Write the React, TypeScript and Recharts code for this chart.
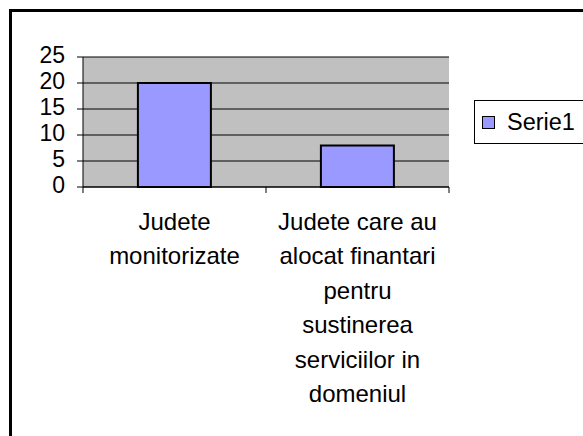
import React from "react";
import {
  BarChart,
  Bar,
  XAxis,
  YAxis,
  CartesianGrid,
  Legend,
} from "recharts";

const categories = [
  "Judete monitorizate",
  "Judete care au alocat finantari pentru sustinerea serviciilor in domeniul",
];
const categoryLines = [
  ["Judete", "monitorizate"],
  ["Judete care au", "alocat finantari", "pentru", "sustinerea", "serviciilor in", "domeniul"],
];
const serie1 = [20, 8];
const yTicks = [0, 5, 10, 15, 20, 25];
const seriesName = "Serie1";

const data = categories.map((c, i) => ({ name: c, serie1: serie1[i] }));

const FONT = "Arial, 'Liberation Sans', sans-serif";

function XTick(props: any) {
  const { x, y, payload, index, visibleTicksCount } = props;
  const idx = payload?.index ?? index;
  const lines = categoryLines[idx] || [String(payload.value)];
  const half = payload?.offset ?? 0;
  const count = visibleTicksCount ?? categories.length;
  return (
    <g>
      <line x1={x - half} x2={x - half} y1={y} y2={y + 6} stroke="#000" strokeWidth={1} />
      {idx === count - 1 && (
        <line x1={x + half} x2={x + half} y1={y} y2={y + 6} stroke="#000" strokeWidth={1} />
      )}
      {lines.map((l, i) => (
        <text
          key={i}
          x={x}
          y={y + 43 + i * 34.4}
          textAnchor="middle"
          fontSize={24}
          fontFamily={FONT}
          fill="#000"
        >
          {l}
        </text>
      ))}
    </g>
  );
}

function YTick(props: any) {
  const { x, y, payload } = props;
  return (
    <text
      x={x}
      y={y - 2}
      dy="0.355em"
      textAnchor="end"
      fontSize={23}
      fontFamily={FONT}
      fill="#000"
    >
      {payload.value}
    </text>
  );
}

function LegendBox() {
  return (
    <div
      style={{
        width: 130,
        height: 44,
        border: "1px solid #000",
        background: "#fff",
        boxSizing: "border-box",
        display: "flex",
        alignItems: "center",
        fontFamily: FONT,
        fontSize: 23.5,
        color: "#000",
      }}
    >
      <span
        style={{
          display: "inline-block",
          width: 13,
          height: 13,
          background: "#9999ff",
          border: "1.5px solid #000",
          boxSizing: "border-box",
          marginLeft: 7,
          marginRight: 12,
        }}
      />
      <span>{seriesName}</span>
    </div>
  );
}

export default function App() {
  return (
    <div
      style={{
        position: "absolute",
        left: 0,
        top: 0,
        width: 583,
        height: 436,
        overflow: "hidden",
        background: "#fff",
      }}
    >
      <div
        style={{
          position: "absolute",
          left: 9,
          top: 9,
          width: 700,
          height: 600,
          border: "3px solid #000",
          boxSizing: "border-box",
        }}
      />
      <div style={{ position: "absolute", left: 0, top: 0 }}>
        <BarChart
          width={583}
          height={436}
          data={data}
          margin={{ top: 57, right: 134, bottom: 0, left: 0 }}
          barCategoryGap="30%"
        >
          <CartesianGrid
            vertical={false}
            stroke="#000"
            strokeWidth={1}
            fill="#c0c0c0"
            fillOpacity={1}
          />
          <XAxis
            dataKey="name"
            height={249}
            axisLine={{ stroke: "#000", strokeWidth: 1 }}
            tickLine={false}
            tickSize={0}
            tickMargin={0}
            interval={0}
            tick={<XTick />}
          />
          <XAxis
            xAxisId="top"
            dataKey="name"
            orientation="top"
            height={0}
            axisLine={{ stroke: "#808080", strokeWidth: 2 }}
            tick={false}
            tickLine={false}
          />
          <YAxis
            width={83}
            domain={[0, 25]}
            ticks={yTicks}
            interval={0}
            tickSize={6}
            tickMargin={12}
            axisLine={{ stroke: "#000", strokeWidth: 1 }}
            tickLine={{ stroke: "#000", strokeWidth: 1 }}
            tick={<YTick />}
          />
          <YAxis
            yAxisId="right"
            orientation="right"
            width={0}
            domain={[0, 25]}
            axisLine={{ stroke: "#808080", strokeWidth: 2 }}
            tick={false}
            tickLine={false}
          />
          <Legend
            layout="vertical"
            align="center"
            verticalAlign="middle"
            content={() => <LegendBox />}
            wrapperStyle={{ position: "absolute", left: 474, top: 100, width: 130, height: 44 }}
          />
          <Bar
            dataKey="serie1"
            name={seriesName}
            fill="#9999ff"
            stroke="#000"
            strokeWidth={2}
            isAnimationActive={false}
          />
        </BarChart>
      </div>
    </div>
  );
}
